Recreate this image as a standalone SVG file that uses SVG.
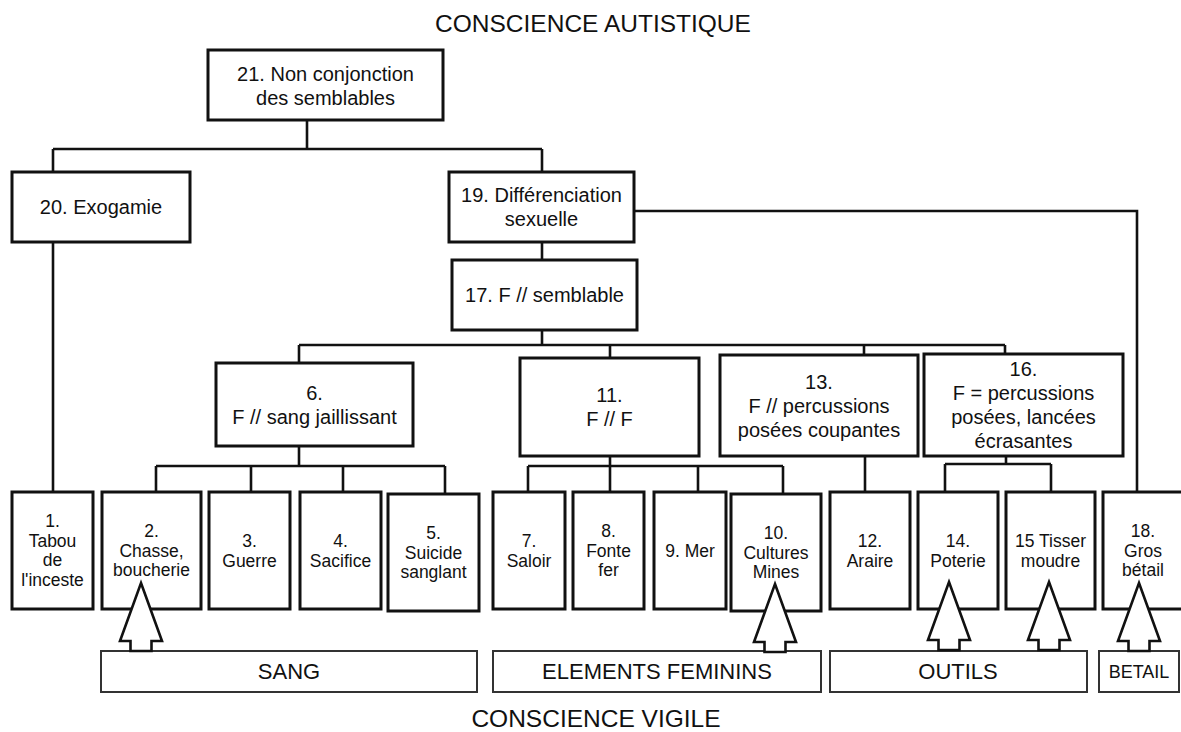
<svg xmlns="http://www.w3.org/2000/svg" width="1181" height="732" viewBox="0 0 1181 732">
<style>
text{font-family:"Liberation Sans",Arial,Helvetica,sans-serif;fill:#111;text-anchor:middle}
.t{font-size:24.5px}
.u{font-size:20px}
.b{font-size:17.5px}
.l{font-size:22px}
.box{fill:#fff;stroke:#111;stroke-width:3}
.lab{fill:#fff;stroke:#333;stroke-width:2}
.con path{fill:none;stroke:#111;stroke-width:2.6}
.arr{fill:#fff;stroke:#111;stroke-width:2.6;stroke-linejoin:miter}
</style>
<defs>
<path id="arrow" class="arr" d="M0,0 L21,58 L10.5,58 L10.5,68 L-10.5,68 L-10.5,58 L-21,58 Z"/>
</defs>
<rect width="1181" height="732" fill="#fff"/>
<text class="t" x="593" y="31.5">CONSCIENCE AUTISTIQUE</text>
<text class="t" x="596" y="726.5">CONSCIENCE VIGILE</text>

<g id="connectors" class="con">
<path d="M307,120 V149 M53,149 H542 M53,149 V172 M542,149 V172"/>
<path d="M53,242 V492"/>
<path d="M634,211 H1137 V492"/>
<path d="M542,242 V260 M542,330 V345 M299,345 H1005 M299,345 V363 M610,345 V358 M864,345 V355 M1005,345 V354"/>
<path d="M299,446 V466 M156,466 H445 M156,466 V492 M251,466 V492 M343,466 V492 M445,466 V494"/>
<path d="M610,456 V466 M528,466 H783 M528,466 V492 M610,466 V492 M698,466 V492 M783,466 V494"/>
<path d="M865,456 V492"/>
<path d="M1006,456 V464 M945,464 H1051 M945,464 V492 M1051,464 V492"/>
</g>

<g id="n21"><rect class="box" x="208" y="50" width="235" height="70"/><text class="u" x="325.5" y="80.5">21. Non conjonction</text><text class="u" x="325.5" y="104.5">des semblables</text></g>
<g id="n20"><rect class="box" x="12" y="172" width="178" height="70"/><text class="u" x="101" y="214">20. Exogamie</text></g>
<g id="n19"><rect class="box" x="449" y="172" width="185" height="70"/><text class="u" x="541.5" y="202">19. Différenciation</text><text class="u" x="541.5" y="226">sexuelle</text></g>
<g id="n17"><rect class="box" x="452" y="260" width="185" height="70"/><text class="u" x="544.5" y="302">17. F // semblable</text></g>
<g id="n6"><rect class="box" x="216" y="363" width="197" height="83"/><text class="u" x="314.5" y="400">6.</text><text class="u" x="314.5" y="424">F // sang jaillissant</text></g>
<g id="n11"><rect class="box" x="520" y="358" width="179" height="98"/><text class="u" x="609.5" y="402">11.</text><text class="u" x="609.5" y="426">F // F</text></g>
<g id="n13"><rect class="box" x="720" y="355" width="198" height="101"/><text class="u" x="819" y="388.5">13.</text><text class="u" x="819" y="412.5">F // percussions</text><text class="u" x="819" y="436.5">posées coupantes</text></g>
<g id="n16"><rect class="box" x="924" y="354" width="199" height="102"/><text class="u" x="1023.5" y="376">16.</text><text class="u" x="1023.5" y="400">F = percussions</text><text class="u" x="1023.5" y="424">posées, lancées</text><text class="u" x="1023.5" y="448">écrasantes</text></g>

<g id="n1"><rect class="box" x="12" y="492" width="81" height="117"/><text class="b" x="52.5" y="527">1.</text><text class="b" x="52.5" y="546.5">Tabou</text><text class="b" x="52.5" y="566">de</text><text class="b" x="52.5" y="585.5">l'inceste</text></g>
<g id="n2"><rect class="box" x="102" y="492" width="99" height="117"/><text class="b" x="151.5" y="537">2.</text><text class="b" x="151.5" y="556.5">Chasse,</text><text class="b" x="151.5" y="576">boucherie</text></g>
<g id="n3"><rect class="box" x="209" y="492" width="81" height="117"/><text class="b" x="249.5" y="547">3.</text><text class="b" x="249.5" y="566.5">Guerre</text></g>
<g id="n4"><rect class="box" x="300" y="492" width="81" height="117"/><text class="b" x="340.5" y="547">4.</text><text class="b" x="340.5" y="566.5">Sacifice</text></g>
<g id="n5"><rect class="box" x="388" y="494" width="91" height="117"/><text class="b" x="433.5" y="539">5.</text><text class="b" x="433.5" y="558.5">Suicide</text><text class="b" x="433.5" y="578">sanglant</text></g>
<g id="n7"><rect class="box" x="493" y="492" width="72" height="117"/><text class="b" x="529" y="547">7.</text><text class="b" x="529" y="566.5">Saloir</text></g>
<g id="n8"><rect class="box" x="573" y="492" width="71" height="117"/><text class="b" x="608.5" y="537">8.</text><text class="b" x="608.5" y="556.5">Fonte</text><text class="b" x="608.5" y="576">fer</text></g>
<g id="n9"><rect class="box" x="654" y="492" width="72" height="117"/><text class="b" x="690" y="556.5">9. Mer</text></g>
<g id="n10"><rect class="box" x="731" y="494" width="90" height="117"/><text class="b" x="776" y="539">10.</text><text class="b" x="776" y="558.5">Cultures</text><text class="b" x="776" y="578">Mines</text></g>
<g id="n12"><rect class="box" x="830" y="492" width="80" height="117"/><text class="b" x="870" y="547">12.</text><text class="b" x="870" y="566.5">Araire</text></g>
<g id="n14"><rect class="box" x="918" y="492" width="80" height="117"/><text class="b" x="958" y="547">14.</text><text class="b" x="958" y="566.5">Poterie</text></g>
<g id="n15"><rect class="box" x="1006" y="492" width="89" height="117"/><text class="b" x="1050.5" y="547">15 Tisser</text><text class="b" x="1050.5" y="566.5">moudre</text></g>
<g id="n18"><rect class="box" x="1103" y="492" width="82" height="117"/><text class="b" x="1143" y="537">18.</text><text class="b" x="1143" y="556.5">Gros</text><text class="b" x="1143" y="576">bétail</text></g>

<g id="sang"><rect class="lab" x="101" y="651" width="376" height="41"/><text class="l" x="289" y="679">SANG</text></g>
<g id="elements"><rect class="lab" x="493" y="651" width="328" height="41"/><text class="l" x="657" y="679">ELEMENTS FEMININS</text></g>
<g id="outils"><rect class="lab" x="830" y="651" width="257" height="41"/><text class="l" x="958" y="679">OUTILS</text></g>
<g id="betail"><rect class="lab" x="1099" y="651" width="80" height="41"/><text class="l" x="1139" y="678" style="font-size:18px">BETAIL</text></g>

<g id="arrows">
<use href="#arrow" x="141" y="583"/>
<use href="#arrow" x="775" y="584"/>
<use href="#arrow" x="949" y="582"/>
<use href="#arrow" x="1049" y="582"/>
<use href="#arrow" x="1139" y="583"/>
</g>
</svg>
